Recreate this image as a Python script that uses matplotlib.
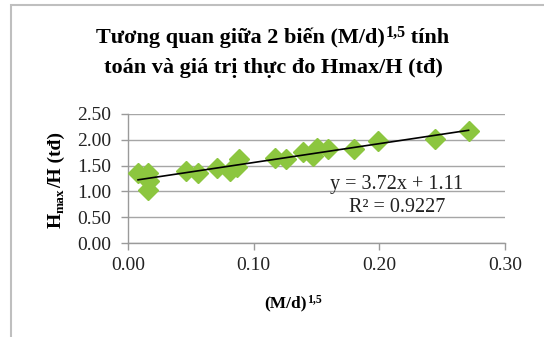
import numpy as np
import matplotlib
matplotlib.use("Agg")
import matplotlib.pyplot as plt
from matplotlib.patches import Rectangle

# Data
x_vals = [0.008, 0.016, 0.017, 0.016, 0.046, 0.056, 0.071, 0.081, 0.088, 0.087,
          0.117, 0.126, 0.139, 0.150, 0.147, 0.159, 0.180, 0.199, 0.244, 0.271]
y_vals = [1.36, 1.35, 1.20, 1.03, 1.40, 1.35, 1.46, 1.40, 1.62, 1.48,
          1.65, 1.62, 1.76, 1.85, 1.68, 1.82, 1.82, 1.97, 2.01, 2.17]
eq_label = "y = 3.72x + 1.11"
r2_label = "R² = 0.9227"
x_ticks = [0.00, 0.10, 0.20, 0.30]
y_ticks = [0.00, 0.50, 1.00, 1.50, 2.00, 2.50]

plt.rcParams['font.family'] = ['Liberation Serif', 'DejaVu Serif']

W, H = 544, 337
fig = plt.figure(figsize=(W / 100, H / 100), dpi=100)
fig.patch.set_facecolor('white')
renderer = fig.canvas.get_renderer()

# outer chart frame
fig.add_artist(Rectangle((11 / W, -0.1), 1.2, 1.1 - 5 / H, transform=fig.transFigure,
                         fill=False, edgecolor='#bfbfbf', linewidth=1.5))

ax = fig.add_axes([128 / W, 1 - 243 / H, (505 - 128) / W, (243 - 114) / H])
ax.set_xlim(0, 0.30)
ax.set_ylim(0, 2.5)
ax.set_xticks(x_ticks)
ax.set_yticks(y_ticks)
ax.set_xticklabels([f"{v:.2f}" for v in x_ticks])
ax.set_yticklabels([f"{v:.2f}" for v in y_ticks])
ax.tick_params(axis='both', labelsize=14, colors='#222222', length=5, width=1,
               direction='out', color='#9a9a9a')
ax.tick_params(axis='y', pad=7)
ax.tick_params(axis='x', pad=5)
ax.yaxis.grid(True, color='#a6a6a6', linewidth=1)
ax.set_axisbelow(True)
for s in ['top', 'right']:
    ax.spines[s].set_visible(False)
for s in ['left', 'bottom']:
    ax.spines[s].set_color('#9a9a9a')
    ax.spines[s].set_linewidth(1)

ax.plot(x_vals, y_vals, linestyle='none', marker='D', markersize=10,
        color='#8cc63f', markeredgecolor='#8cc63f', zorder=3)
# linear trendline fitted to the points
k, b = np.polyfit(x_vals, y_vals, 1)
xs = np.array([min(x_vals), max(x_vals)])
ax.plot(xs, k * xs + b, color='black', linewidth=1.2, zorder=4)

fig.text(397 / W, 1 - 185 / H, eq_label, ha='center',
         va='center', fontsize=14.5, color='#222222')
fig.text(397 / W, 1 - 208 / H, r2_label, ha='center', va='center',
         fontsize=14.5, color='#222222')


def rich_line(pieces, cx, by, rotation=0):
    """pieces: list of (text, fontsize, rise_px). Centered at cx (px), baseline by (px from top)."""
    widths = []
    for t, fs, rise in pieces:
        tt = fig.text(0, 0, t, fontsize=fs, fontweight='bold')
        widths.append(tt.get_window_extent(renderer).width)
        tt.remove()
    total = sum(widths)
    if rotation == 0:
        x = cx - total / 2
        for (t, fs, rise), w in zip(pieces, widths):
            fig.text(x / W, 1 - (by - rise) / H, t, fontsize=fs, fontweight='bold',
                     ha='left', va='baseline')
            x += w
    else:
        y = by + total / 2
        for (t, fs, rise), w in zip(pieces, widths):
            fig.text((cx - rise) / W, 1 - y / H, t, fontsize=fs, fontweight='bold',
                     ha='left', va='baseline', rotation=90, rotation_mode='anchor')
            y -= w


rich_line([("Tương quan giữa 2 biến (M/d)", 16, 0), ("1,5", 11.5, 6), (" tính", 16, 0)],
          273, 43)
rich_line([("toán và giá trị thực đo Hmax/H (tđ)", 16, 0)], 273, 73)
rich_line([("(M/d)", 12.5, 0), ("1,5", 8.5, 5)], 293, 307)
rich_line([("H", 14, 0), ("max", 9.5, -3), ("/H (tđ)", 14, 0)], 61, 180, rotation=90)

fig.savefig('out.png', dpi=100, facecolor='white')
